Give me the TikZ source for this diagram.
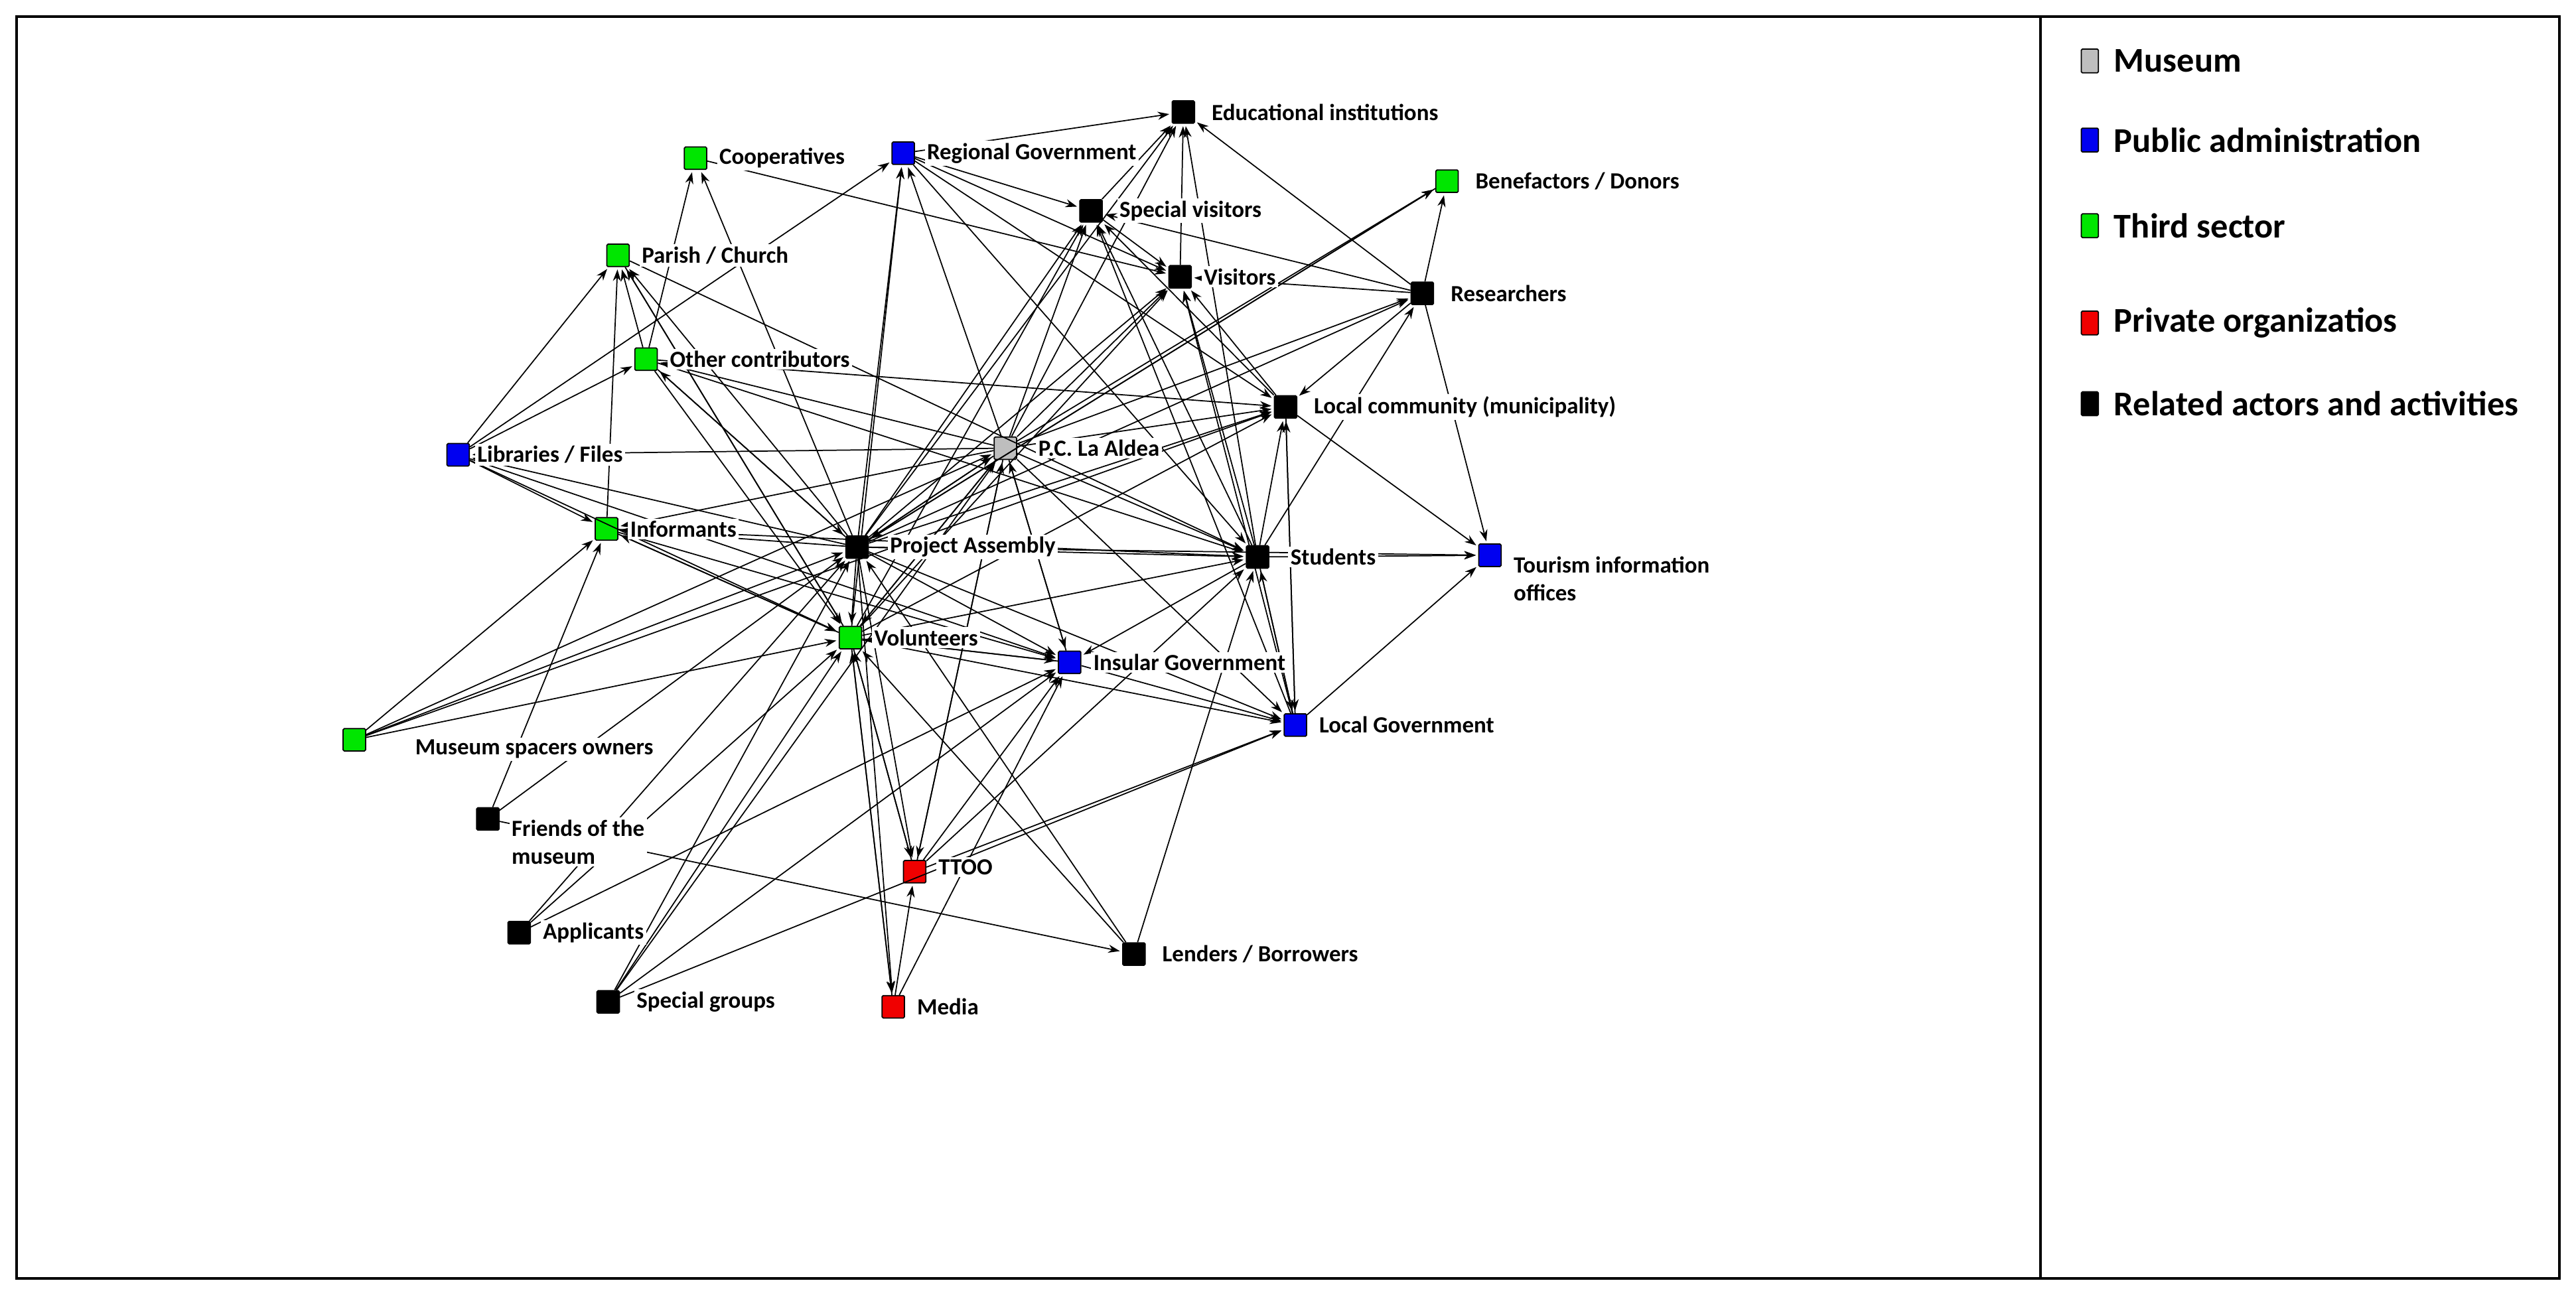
\documentclass[tikz,border=0pt]{standalone}
\usepackage{fontspec}
\setmainfont{Carlito}
\usetikzlibrary{arrows.meta}
\definecolor{mgreen}{RGB}{0,230,0}
\definecolor{mblue}{RGB}{0,0,240}
\definecolor{mred}{RGB}{240,0,0}
\definecolor{mgray}{RGB}{190,190,190}
\begin{document}
\begin{tikzpicture}[x=0.025cm,y=-0.025cm,
  sq/.style={draw=black,line width=0.5pt,minimum size=0.34cm,inner sep=0pt,rounded corners=0.5pt},
  lab/.style={anchor=west,fill=white,inner sep=1pt,font=\fontsize{10}{12}\selectfont\bfseries},
  leg/.style={anchor=west,font=\fontsize{15}{18}\selectfont\bfseries},
  ed/.style={-{Stealth[length=5pt,width=3.5pt]},line width=0.5pt,shorten >=1pt}]
\useasboundingbox (0,0) rectangle (1563,787);
\draw[line width=1.2pt] (10,10) rectangle (1553,776);
\draw[line width=1.2pt] (1238,10) -- (1238,776);
% nodes
\foreach \n/\x/\y/\c in {pc/610/272/mgray, pa/520/332/black, edu/718/68/black, coop/422/96/mgreen,
 reg/548/93/mblue, sv/662/128/black, ben/878/110/mgreen, par/375/155/mgreen, vis/716/168/black,
 res/863/178/black, oth/392/218/mgreen, lc/780/247/black, lib/278/276/mblue, inf/368/321/mgreen,
 stu/763/338/black, tour/904/337/mblue, vol/516/387/mgreen, ins/649/402/mblue, lg/786/440/mblue,
 mso/215/449/mgreen, fri/296/497/black, tto/555/529/mred, app/315/566/black, len/688/579/black,
 sg/369/608/black, med/542/611/mred}
  \node[sq,fill=\c] (\n) at (\x,\y) {};
% edges
\foreach \a/\b in {pa/pc,pc/pa,pa/edu,pa/reg,pa/sv,pa/vis,pa/res,pa/lc,pa/stu,pa/ins,pa/lg,pa/vol,pa/inf,pa/oth,pa/par,pa/coop,pa/lib,pa/tto,pa/med,pa/ben,pa/tour,
 pc/edu,pc/sv,pc/vis,pc/res,pc/lc,pc/stu,pc/ins,pc/vol,pc/inf,pc/lib,pc/oth,pc/reg,pc/lg,pc/tto,pc/ben,
 vol/pc,vol/sv,vol/vis,vol/lc,vol/stu,vol/ins,vol/lg,vol/tto,vol/med,vol/inf,vol/par,vol/reg,
 stu/edu,stu/sv,stu/vis,stu/res,stu/lc,stu/tour,stu/lg,stu/ins,
 vis/edu,sv/edu,sv/vis,res/vis,res/sv,res/lc,res/ben,res/tour,res/edu,
 lc/tour,lc/lg,lc/vis,lc/sv,lg/tour,lg/stu,lg/lc,lg/vis,lg/sv,tto/lg,ins/lg,
 reg/sv,reg/vis,reg/stu,reg/lc,reg/edu,lib/par,lib/oth,lib/inf,lib/vol,lib/ins,lib/reg,
 mso/inf,mso/pa,mso/vol,mso/pc,mso/lc,fri/inf,fri/len,fri/pa,app/pa,app/vol,app/ins,
 sg/pa,sg/vol,sg/ins,sg/lg,sg/pc,med/tto,med/ins,med/vol,tto/stu,tto/ins,tto/pc,tto/vol,
 len/stu,len/pa,len/vol,inf/vol,inf/ins,inf/par,inf/stu,oth/par,oth/coop,oth/lc,oth/stu,oth/vol,oth/pa,
 par/stu,par/vol,coop/vis,ben/pa,ins/vol,ins/pc}
  \draw[ed] (\a) -- (\b);
% labels
\node[lab] (lpc) at ([xshift=8]pc.east) {P.C. La Aldea};
\node[lab] (lpa) at ([xshift=8]pa.east) {Project Assembly};
\node[lab] (ledu) at ([xshift=6]edu.east) {Educational institutions};
\node[lab] (lcoop) at ([xshift=4]coop.east) {Cooperatives};
\node[lab] (lreg) at ([xshift=4]reg.east) {Regional Government};
\node[lab] (lsv) at ([xshift=6]sv.east) {Special visitors};
\node[lab] (lben) at ([xshift=6]ben.east) {Benefactors / Donors};
\node[lab] (lpar) at ([xshift=4]par.east) {Parish / Church};
\node[lab] (lvis) at ([xshift=4]vis.east) {Visitors};
\node[lab] (lres) at ([xshift=6]res.east) {Researchers};
\node[lab] (loth) at ([xshift=4]oth.east) {Other contributors};
\node[lab] (llc) at ([xshift=6]lc.east) {Local community (municipality)};
\node[lab] (llib) at ([xshift=2]lib.east) {Libraries / Files};
\node[lab] (linf) at ([xshift=4]inf.east) {Informants};
\node[lab] (lstu) at ([xshift=8]stu.east) {Students};
\node[lab,align=left] (ltour) at ([xshift=4,yshift=-10]tour.east) {Tourism information\\offices};
\node[lab] (lvol) at ([xshift=4]vol.east) {Volunteers};
\node[lab] (lins) at ([xshift=4]ins.east) {Insular Government};
\node[lab] (llg) at ([xshift=4]lg.east) {Local Government};
\node[lab] (lmso) at ([xshift=20,yshift=-4]mso.east) {Museum spacers owners};
\node[lab,align=left] (lfri) at ([xshift=4,yshift=-10]fri.east) {Friends of the\\museum};
\node[lab] (ltto) at ([xshift=4,yshift=2]tto.east) {TTOO};
\node[lab] (lapp) at ([xshift=4]app.east) {Applicants};
\node[lab] (llen) at ([xshift=6]len.east) {Lenders / Borrowers};
\node[lab] (lsg) at ([xshift=6]sg.east) {Special groups};
\node[lab] (lmed) at ([xshift=4]med.east) {Media};
% legend
\foreach \n/\y/\c/\t in {k1/37/mgray/Museum,k2/85/mblue/Public administration,k3/137/mgreen/Third sector,k4/196/mred/Private organizatios,k5/245/black/Related actors and activities}{
  \node[sq,minimum width=0.26cm,minimum height=0.36cm,fill=\c] (\n) at (1268,\y) {};
  \node[leg] (t\n) at ([xshift=3]\n.east) {\t};
}
\end{tikzpicture}
\end{document}
